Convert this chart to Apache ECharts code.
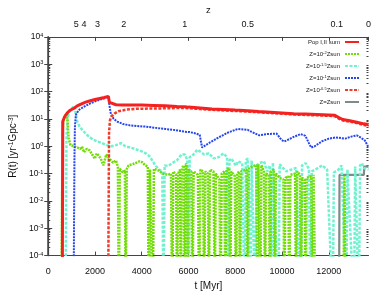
<!DOCTYPE html>
<html><head><meta charset="utf-8">
<script src="https://cdn.jsdelivr.net/npm/echarts@6/dist/echarts.min.js"></script>
<style>html,body{margin:0;padding:0;background:#fff}#c{width:374px;height:296px}</style>
</head><body><div id="c"></div>
<script>
// ---- data (t in Myr, rate in yr^-1 Gpc^-3; 1e-6 marks a zero rate, drawn off the bottom) ----
const Z0 = 1e-6;
const popSum = [[600,Z0],[620,8],[700,12],[800,16],[910,20],[1000,22],[1120,25],[1240,30],[1400,35],[1600,41],[1800,46],[2000,51],[2200,56],[2400,61],[2570,67],[2620,40],[2700,35],[2900,33],[3200,32],[3600,32],[4000,32],[4500,31],[5000,30],[5500,28.5],[5840,28],[6000,27],[6500,25],[7000,23],[7500,22],[8000,21],[8530,20],[9000,18.5],[9500,17.5],[10000,16.5],[10500,15.5],[11000,15],[11500,14.5],[12000,14],[12260,13.5],[12450,11],[12600,9.5],[12900,8.5],[13200,7.5],[13500,6.6],[13700,6.2]];
const zm2 = [[560,Z0],[610,3],[650,9],[720,13],[790,16],[830,8],[870,2],[950,1.1],[1100,1.0],[1250,0.9],[1370,0.8],[1450,0.95],[1530,0.6],[1650,0.8],[1780,0.7],[1880,0.5],[1990,0.35],[2080,0.55],[2150,0.6],[2250,0.35],[2360,0.2],[2480,0.5],[2620,0.35],[2770,0.25],[2900,0.3],[2980,0.17],[3020,Z0],[3060,0.15],[3190,0.11],[3280,0.13],[3310,Z0],[3360,0.15],[3440,0.2],[3600,0.22],[3730,0.24],[3900,0.28],[4020,0.26],[4150,0.2],[4260,0.18],[4300,Z0],[4350,0.14],[4430,0.12],[4470,Z0],[4520,0.15],[4720,0.13],[4900,0.1],[5130,0.09],[5250,0.1],[5300,Z0],[5350,0.12],[5470,0.09],[5510,Z0],[5560,0.1],[5640,0.14],[5670,Z0],[5720,0.16],[5800,0.2],[5840,Z0],[5890,0.24],[5940,0.15],[5960,Z0],[6010,0.14],[6120,0.12],[6170,Z0],[6220,0.12],[6400,0.09],[6460,Z0],[6510,0.14],[6620,0.12],[6670,Z0],[6720,0.12],[6830,0.1],[6870,Z0],[6920,0.14],[7070,0.12],[7120,Z0],[7170,0.1],[7320,0.06],[7370,Z0],[7420,0.1],[7530,0.12],[7580,Z0],[7630,0.14],[7740,0.16],[7780,Z0],[7830,0.12],[7980,0.08],[8030,Z0],[8080,0.1],[8160,0.12],[8200,Z0],[8250,0.12],[8480,0.14],[8530,Z0],[8580,0.15],[8750,0.19],[8900,0.2],[8940,Z0],[8990,0.22],[9030,0.24],[9070,Z0],[9120,0.2],[9230,0.12],[9270,Z0],[9320,0.1],[9440,0.09],[9480,Z0],[9530,0.12],[9650,0.14],[9690,Z0],[9740,0.1],[9900,0.07],[10060,0.06],[10100,Z0],[10150,0.07],[10270,0.08],[10310,Z0],[10360,0.09],[10560,0.1],[10600,Z0],[10650,0.12],[10770,0.09],[10810,Z0],[10860,0.07],[10970,0.06],[11010,Z0],[11060,0.07],[11250,0.08],[11300,Z0],[11350,0.09],[11400,0.08],[11430,Z0],[12620,Z0],[12670,0.08],[12720,Z0],[13700,Z0]];
const zm15 = [[740,Z0],[780,2],[820,10],[900,18],[1000,24],[1100,30],[1160,18],[1240,8],[1350,5],[1500,3.6],[1700,2.4],[1900,1.8],[2100,1.5],[2300,1.3],[2500,1.1],[2700,1.0],[2900,1.1],[3100,1.3],[3300,1.0],[3500,0.9],[3700,0.8],[3900,0.7],[4100,0.6],[4310,0.45],[4450,0.3],[4600,0.19],[4750,0.14],[4880,0.12],[4930,Z0],[4980,0.2],[5130,0.19],[5300,0.24],[5500,0.3],[5700,0.5],[5850,0.5],[5950,0.3],[6000,Z0],[6050,0.4],[6170,0.45],[6380,0.75],[6670,0.5],[6870,0.55],[7080,0.36],[7290,0.4],[7500,0.55],[7650,0.4],[7700,Z0],[7750,0.3],[7830,0.36],[8030,0.19],[8110,0.28],[8300,0.24],[8400,Z0],[8450,0.3],[8530,0.36],[8650,Z0],[8700,0.3],[8780,0.28],[8860,Z0],[8910,0.2],[9030,0.24],[9230,0.28],[9360,0.12],[9480,0.2],[9560,Z0],[9610,0.25],[9690,0.28],[9850,Z0],[9900,0.22],[9980,0.19],[10180,0.12],[10400,0.14],[10600,0.16],[10810,Z0],[10860,0.2],[11010,0.24],[11150,0.15],[11220,Z0],[11270,0.12],[11430,0.14],[11720,0.2],[11930,0.14],[12170,Z0],[12220,0.11],[12420,0.14],[12550,0.2],[12750,Z0],[12800,0.14],[12880,0.16],[13080,Z0],[13130,0.18],[13200,0.2],[13290,Z0],[13340,0.2],[13420,0.24],[13500,0.16],[13700,0.14]];
const zm1 = [[1080,Z0],[1120,0.3],[1140,5],[1180,14],[1300,21],[1500,27],[1800,37],[2100,47],[2400,57],[2570,65],[2620,30],[2680,15],[2800,10],[2950,8],[3200,6.5],[3500,5.8],[3800,5.5],[4200,5.2],[4600,4.7],[5000,4.3],[5420,3.9],[5840,3.4],[6050,3.3],[6330,2.9],[6480,2.6],[6580,0.9],[6870,1.3],[7290,2.1],[7700,3.2],[8110,4.3],[8530,4.0],[8750,3.2],[9030,2.5],[9360,2.8],[9770,2.9],[9980,1.7],[10100,1.5],[10300,1.8],[10500,2.2],[10800,2.8],[11000,2.4],[11150,1.3],[11250,0.9],[11400,1.0],[11700,1.5],[12000,1.9],[12300,2.1],[12700,1.9],[13000,2.3],[13200,2.5],[13400,2.0],[13550,1.6],[13700,0.9]];
const zm05 = [[2560,Z0],[2600,3],[2640,9],[2700,12],[2850,16],[3000,19],[3350,22],[3800,23.5],[4600,24],[5500,25],[5840,25],[6000,24.5],[6500,23],[7000,21.5],[7500,20.5],[8000,19.5],[8530,18.5],[9000,17.5],[9500,16.5],[10000,15.5],[10500,14.5],[11000,14],[11500,13.5],[12000,13],[12260,12.5],[12450,10],[12600,8.8],[12900,8],[13200,7],[13500,6],[13700,5.5]];
const zsun = [[12440,Z0],[12460,0.09],[13500,0.09],[13520,0.18],[13700,0.18]];

const seriesNames = ['Pop I,II sum','Z=10^-2Zsun','Z=10^-1.5Zsun','Z=10^-1Zsun','Z=10^-0.5Zsun','Z=Zsun'];
const legendRich = ['{n|Pop I,II sum}','{n|Z=10}{s|-2}{n|Zsun}','{n|Z=10}{s|-1.5}{n|Zsun}','{n|Z=10}{s|-1}{n|Zsun}','{n|Z=10}{s|-0.5}{n|Zsun}','{n|Z=Zsun}'];
const xTicks = [0,2000,4000,6000,8000,10000,12000];
const zLabels = ['5','4','3','2','1','0.5','0.1','0'];
const zTimes  = [1200,1530,2110,3230,5840,8530,12340,13700];
const yExps = [-4,-3,-2,-1,0,1,2,3,4];
const tMax = 13700;

const minorY = [];
for (let e = -4; e < 4; e++) for (let m = 2; m <= 9; m++) minorY.push(m * Math.pow(10, e));
const majorY = yExps.map(e => Math.pow(10, e));

const FONT = 'Liberation Sans';
const axisCol = '#444';
const chart = echarts.init(document.getElementById('c'), null, {renderer: 'canvas'});
const yBase = {type: 'log', logBase: 10, min: 1e-4, max: 1e4, splitLine: {show: false}};
chart.setOption({
  animation: false,
  textStyle: {fontFamily: FONT},
  grid: {left: 39, right: 4, top: 29, bottom: 33},
  legend: {
    orient: 'vertical', right: 9, top: 34, align: 'right',
    itemWidth: 14, itemHeight: 6, itemGap: 6,
    data: seriesNames,
    itemStyle: {opacity: 0},
    formatter: n => legendRich[seriesNames.indexOf(n)],
    textStyle: {fontFamily: FONT, color: '#222', rich: {
      n: {fontSize: 6, fontFamily: FONT, color: '#222'},
      s: {fontSize: 4, fontFamily: FONT, color: '#222', verticalAlign: 'top', lineHeight: 6}
    }}
  },
  xAxis: [
    {type: 'value', position: 'bottom', min: 0, max: tMax, interval: 2000,
     name: 't [Myr]', nameLocation: 'middle', nameGap: 21,
     nameTextStyle: {fontSize: 10, color: '#111', fontFamily: FONT},
     axisLine: {show: true, lineStyle: {color: axisCol, width: 1.2}},
     axisTick: {inside: true, length: 4, lineStyle: {color: axisCol}},
     axisLabel: {fontSize: 9, color: '#111', margin: 11.5, showMaxLabel: false, fontFamily: FONT,
       formatter: v => String(v)},
     splitLine: {show: false}},
    {type: 'value', position: 'top', min: 0, max: tMax, interval: 2000,
     name: 'z', nameLocation: 'middle', nameGap: 20,
     nameTextStyle: {fontSize: 9.5, color: '#111', fontFamily: FONT},
     axisLine: {show: true, lineStyle: {color: axisCol, width: 1.2}},
     axisTick: {inside: true, length: 4, lineStyle: {color: axisCol}},
     axisLabel: {fontSize: 9, color: '#111', margin: 8, fontFamily: FONT,
       customValues: zTimes,
       formatter: v => { const i = zTimes.findIndex(t => Math.abs(t - v) < 1); return i >= 0 ? zLabels[i] : ''; }},
     splitLine: {show: false}}
  ],
  yAxis: [
    Object.assign({}, yBase, {position: 'left',
      name: '{r|R(t) [yr}{s|-1}{r|Gpc}{s|-3}{r|]}', nameLocation: 'middle', nameGap: 25,
      nameTextStyle: {fontFamily: FONT, rich: {
        r: {fontSize: 10, color: '#111', fontFamily: FONT},
        s: {fontSize: 6.5, color: '#111', fontFamily: FONT, verticalAlign: 'top', lineHeight: 10}}},
      axisLine: {show: true, lineStyle: {color: axisCol, width: 1.5}},
      axisTick: {inside: true, length: 4, customValues: majorY, lineStyle: {color: axisCol}},
      axisLabel: {margin: 5, customValues: majorY,
        formatter: v => '{b|10}{s|' + Math.round(Math.log10(v)) + '}',
        rich: {b: {fontSize: 8.5, color: '#111', fontFamily: FONT},
               s: {fontSize: 5.5, color: '#111', fontFamily: FONT, verticalAlign: 'top', lineHeight: 8}}}}),
    Object.assign({}, yBase, {position: 'right',
      axisLine: {show: true, lineStyle: {color: axisCol, width: 1.2}},
      axisTick: {inside: true, length: 4, customValues: majorY, lineStyle: {color: axisCol}},
      axisLabel: {show: false}}),
    Object.assign({}, yBase, {position: 'left',
      axisLine: {show: false},
      axisTick: {inside: true, length: 2, customValues: minorY, lineStyle: {color: axisCol}},
      axisLabel: {show: false}}),
    Object.assign({}, yBase, {position: 'right',
      axisLine: {show: false},
      axisTick: {inside: true, length: 2, customValues: minorY, lineStyle: {color: axisCol}},
      axisLabel: {show: false}})
  ],
  series: [
    {name: seriesNames[5], type: 'line', data: zsun, symbol: 'none', z: 2,
     lineStyle: {color: '#7d8b8b', width: 2.2}, itemStyle: {color: '#7d8b8b'}},
    {name: seriesNames[2], type: 'line', data: zm15, symbol: 'none', z: 3,
     lineStyle: {color: '#70f2d0', width: 2.5, type: [3, 1.5]}, itemStyle: {color: '#70f2d0'}},
    {name: seriesNames[1], type: 'line', data: zm2, symbol: 'none', z: 4,
     lineStyle: {color: '#72dc08', width: 2.5, type: [2, 1]}, itemStyle: {color: '#72dc08'}},
    {name: seriesNames[3], type: 'line', data: zm1, symbol: 'none', z: 5,
     lineStyle: {color: '#2545ee', width: 2, type: [2, 1]}, itemStyle: {color: '#2545ee'}},
    {name: seriesNames[4], type: 'line', data: zm05, symbol: 'none', z: 6,
     lineStyle: {color: '#f03a2a', width: 2.5, type: [3, 1.5]}, itemStyle: {color: '#f03a2a'}},
    {name: seriesNames[0], type: 'line', data: popSum, symbol: 'none', z: 7,
     lineStyle: {color: '#f52020', width: 3}, itemStyle: {color: '#f52020'}}
  ]
});
</script></body></html>
